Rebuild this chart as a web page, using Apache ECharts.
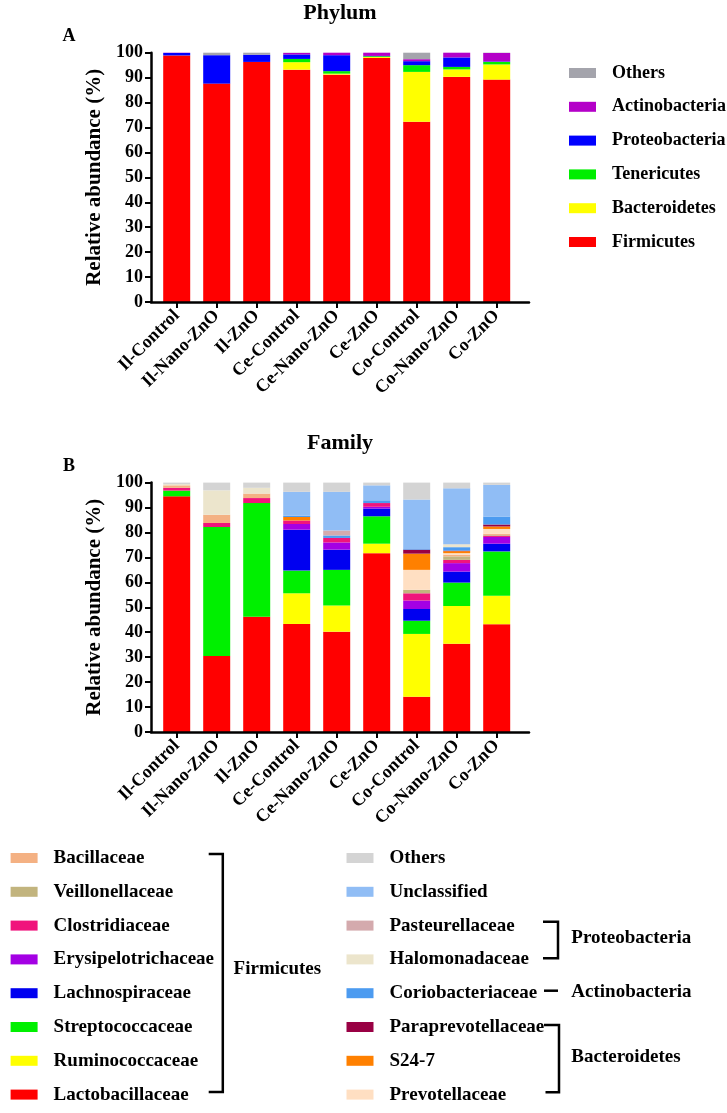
<!DOCTYPE html>
<html>
<head>
<meta charset="utf-8">
<script src="https://cdn.jsdelivr.net/npm/echarts@6/dist/echarts.min.js"></script>
<style>
  html, body { margin: 0; padding: 0; background: #fff; }
  #chart { width: 727px; height: 1113px; }
</style>
</head>
<body>
<div id="chart"></div>
<script>
const groups = ['Il-Control', 'Il-Nano-ZnO', 'Il-ZnO', 'Ce-Control', 'Ce-Nano-ZnO', 'Ce-ZnO', 'Co-Control', 'Co-Nano-ZnO', 'Co-ZnO']
const yTicks = [0, 10, 20, 30, 40, 50, 60, 70, 80, 90, 100]

// Phylum (%), bottom of stack first
const firmicutes = [98.9, 87.6, 96.3, 93.2, 91.2, 97.9, 72.3, 90.3, 89.2]
const bacteroidetes = [0, 0, 0, 3.0, 0.4, 0.4, 20.0, 3.0, 6.1]
const tenericutes = [0, 0, 0, 1.3, 1.0, 0.3, 2.7, 1.0, 1.0]
const proteobacteria = [1.0, 11.4, 2.9, 1.8, 6.4, 0.1, 1.6, 3.8, 0.2]
const actinobacteria = [0.1, 0, 0, 0.6, 1.0, 1.3, 0.8, 1.9, 3.4]
const phylumOthers = [0, 1.0, 0.8, 0.1, 0, 0, 2.6, 0, 0.1]

// Family (%), bottom of stack first
const lactobacillaceae = [94.5, 30.4, 46.2, 43.3, 40.2, 71.7, 14.1, 35.4, 43.2]
const ruminococcaceae = [0, 0, 0, 12.3, 10.5, 3.8, 25.2, 15.1, 11.4]
const streptococcaceae = [2.3, 51.8, 45.6, 9.1, 14.3, 11.0, 5.3, 9.4, 17.8]
const lachnospiraceae = [0, 0, 0, 16.4, 8.1, 3.1, 4.7, 4.4, 3.1]
const erysipelotrichaceae = [0, 0, 0, 2.3, 2.9, 0.7, 3.4, 3.4, 2.7]
const clostridiaceae = [1.1, 1.6, 2.0, 1.4, 1.8, 1.5, 2.9, 1.3, 0.5]
const veillonellaceae = [0, 0, 0, 0, 0, 0, 1.4, 1.4, 0.3]
const bacillaceae = [1.0, 3.3, 1.8, 0, 0, 0, 0, 0.7, 0.5]
const prevotellaceae = [0, 0, 0, 0, 0, 0, 8.0, 0.6, 1.9]
const s247 = [0, 0, 0, 1.4, 0, 0, 6.5, 0.8, 1.0]
const paraprevotellaceae = [0, 0, 0, 0, 0, 0, 1.6, 0.2, 0.8]
const coriobacteriaceae = [0, 0, 0, 0.5, 1.0, 1.1, 0.3, 1.4, 3.2]
const halomonadaceae = [0.5, 9.8, 2.3, 0, 0, 0, 0, 1.2, 0]
const pasteurellaceae = [0, 0, 0, 0, 2.0, 0, 0, 0, 0]
const unclassified = [0, 0, 0, 9.6, 15.5, 6.0, 19.8, 22.4, 12.7]
const familyOthers = [0.6, 3.1, 2.1, 3.7, 3.7, 1.1, 6.8, 2.3, 0.9]

const phylumSeries = [
  ['Firmicutes', firmicutes, '#FF0000'],
  ['Bacteroidetes', bacteroidetes, '#FFFF00'],
  ['Tenericutes', tenericutes, '#00EE00'],
  ['Proteobacteria', proteobacteria, '#0000FF'],
  ['Actinobacteria', actinobacteria, '#B400C8'],
  ['Others', phylumOthers, '#A4A4AC']
]

const familySeries = [
  ['Lactobacillaceae', lactobacillaceae, '#FF0000'],
  ['Ruminococcaceae', ruminococcaceae, '#FFFF00'],
  ['Streptococcaceae', streptococcaceae, '#00F000'],
  ['Lachnospiraceae', lachnospiraceae, '#0000F0'],
  ['Erysipelotrichaceae', erysipelotrichaceae, '#A400E4'],
  ['Clostridiaceae', clostridiaceae, '#F0147C'],
  ['Veillonellaceae', veillonellaceae, '#C2B47E'],
  ['Bacillaceae', bacillaceae, '#F4B183'],
  ['Prevotellaceae', prevotellaceae, '#FFDFC2'],
  ['S24-7', s247, '#FF8000'],
  ['Paraprevotellaceae', paraprevotellaceae, '#990044'],
  ['Coriobacteriaceae', coriobacteriaceae, '#4C9BF0'],
  ['Halomonadaceae', halomonadaceae, '#ECE5CC'],
  ['Pasteurellaceae', pasteurellaceae, '#D4AAAD'],
  ['Unclassified', unclassified, '#90BDF5'],
  ['Others', familyOthers, '#D4D4D4']
]

const FONT = '"Liberation Serif", "Times New Roman", serif'
const black = '#000'

// one chart = grid for the bars + grid for the axis frame (frame is a bit wider)
const makeAxes = (gridTop) => {
  const grids = [
    { left: 156.7, top: gridTop, width: 360, height: 249.3 },
    { left: 151, top: gridTop, width: 378, height: 249.3 }
  ]
  const xAxes = [
    {
      type: 'category',
      data: groups,
      axisLine: { show: false },
      axisTick: { show: true, alignWithLabel: true, interval: 0, length: 6, lineStyle: { color: black, width: 2 } },
      axisLabel: { interval: 0, rotate: 45, margin: 11, color: black, fontSize: 18, fontWeight: 'bold', fontFamily: FONT }
    },
    {
      type: 'value', min: 0, max: 1, z: 5,
      axisLine: { show: true, onZero: false, lineStyle: { color: black, width: 2.5 } },
      axisTick: { show: false }, axisLabel: { show: false }, splitLine: { show: false }
    }
  ]
  const yAxes = [
    { type: 'value', min: 0, max: 100, show: false },
    {
      type: 'value', min: yTicks[0], max: yTicks[yTicks.length - 1], interval: 10, z: 5,
      name: 'Relative abundance (%)',
      nameLocation: 'middle',
      nameGap: 46,
      nameTextStyle: { color: black, fontSize: 21, fontWeight: 'bold', fontFamily: FONT },
      axisLine: { show: true, lineStyle: { color: black, width: 2.5 } },
      axisTick: { show: true, length: 6, lineStyle: { color: black, width: 2 } },
      axisLabel: { margin: 8, color: black, fontSize: 18, fontWeight: 'bold', fontFamily: FONT },
      splitLine: { show: false }
    }
  ]
  return { grids, xAxes, yAxes }
}

const phylumAxes = makeAxes(52.7)
const familyAxes = makeAxes(482.6)

const barSeries = (list, axisIndex, stack) => list.map(([name, values, color]) => ({
  name: name,
  type: 'bar',
  stack: stack,
  xAxisIndex: axisIndex,
  yAxisIndex: axisIndex,
  barWidth: 27,
  itemStyle: { color: color },
  emphasis: { disabled: true },
  data: values
}))

const legendText = { color: black, fontSize: 18, fontWeight: 'bold', fontFamily: FONT, lineHeight: 20, padding: [0, 0, 0, 11] }
const legendItems = (list, names) => names.map(n => {
  const s = list.find(x => x[0] === n)
  return { name: n, itemStyle: { color: s[2] } }
})

const txt = (text, x, y, size, align) => ({
  type: 'text', x: x, y: y, silent: true,
  style: { text: text, font: 'bold ' + size + 'px ' + FONT, fill: black, textAlign: align || 'left', textVerticalAlign: 'middle' }
})
const line = (points) => ({
  type: 'polyline', silent: true,
  shape: { points: points },
  style: { stroke: black, lineWidth: 2.5, fill: null }
})

const option = {
  animation: false,
  backgroundColor: '#fff',
  grid: [...phylumAxes.grids, ...familyAxes.grids],
  xAxis: [...phylumAxes.xAxes, ...familyAxes.xAxes].map((a, i) => ({ ...a, gridIndex: i })),
  yAxis: [...phylumAxes.yAxes, ...familyAxes.yAxes].map((a, i) => ({ ...a, gridIndex: i })),
  legend: [
    {
      orient: 'vertical', left: 564, top: 58, itemWidth: 27, itemHeight: 10, itemGap: 13.8,
      icon: 'rect', selectedMode: false, textStyle: legendText,
      data: legendItems(phylumSeries, ['Others', 'Actinobacteria', 'Proteobacteria', 'Tenericutes', 'Bacteroidetes', 'Firmicutes'])
    },
    {
      orient: 'vertical', left: 5.6, top: 843, itemWidth: 27, itemHeight: 10, itemGap: 13.8,
      icon: 'rect', selectedMode: false, textStyle: { ...legendText, fontSize: 19 },
      data: legendItems(familySeries, ['Bacillaceae', 'Veillonellaceae', 'Clostridiaceae', 'Erysipelotrichaceae', 'Lachnospiraceae', 'Streptococcaceae', 'Ruminococcaceae', 'Lactobacillaceae'])
    },
    {
      orient: 'vertical', left: 341.5, top: 843, itemWidth: 27, itemHeight: 10, itemGap: 13.8,
      icon: 'rect', selectedMode: false, textStyle: { ...legendText, fontSize: 19 },
      data: legendItems(familySeries, ['Others', 'Unclassified', 'Pasteurellaceae', 'Halomonadaceae', 'Coriobacteriaceae', 'Paraprevotellaceae', 'S24-7', 'Prevotellaceae'])
    }
  ],
  graphic: [
    txt('Phylum', 340, 13, 22, 'center'),
    txt('A', 69, 36, 18, 'center'),
    txt('Family', 340, 443, 22, 'center'),
    txt('B', 69, 466, 18, 'center'),
    // group brackets for the family legend
    line([[208.7, 854], [222.8, 854], [222.8, 1092], [208.7, 1092]]),
    txt('Firmicutes', 233.6, 969.5, 19),
    line([[543, 921.7], [558, 921.7], [558, 958.3], [543, 958.3]]),
    txt('Proteobacteria', 571.3, 938.5, 19),
    line([[544, 990.7], [558, 990.7]]),
    txt('Actinobacteria', 571.3, 992.3, 19),
    line([[544, 1025], [559, 1025], [559, 1092.3], [545.5, 1092.3]]),
    txt('Bacteroidetes', 571.3, 1057.5, 19)
  ],
  series: [...barSeries(phylumSeries, 0, 'phylum'), ...barSeries(familySeries, 2, 'family')]
}

const chart = echarts.init(document.getElementById('chart'), null, { renderer: 'canvas' })
chart.setOption(option)
</script>
</body>
</html>
